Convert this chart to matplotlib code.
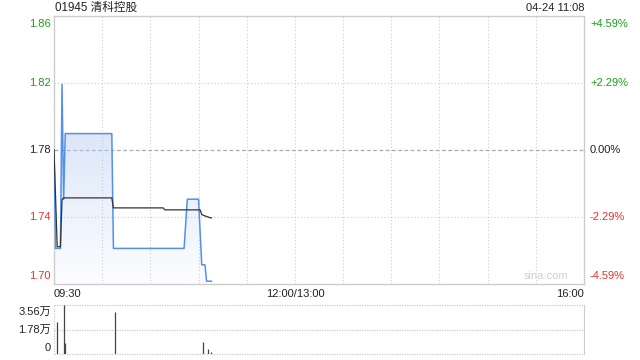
import matplotlib
matplotlib.use("Agg")
import matplotlib.pyplot as plt
import matplotlib.transforms as mtransforms
from matplotlib.patches import Polygon
import numpy as np

plt.rcParams['font.family'] = ['Liberation Sans', 'Noto Sans CJK SC', 'DejaVu Sans']

# ---------------- data ----------------
title = "01945 清科控股"
stamp = "04-24 11:08"
prev_close = 1.78
pct_levels = [0.0459, 0.0229, 0.0, -0.0229, -0.0459]
price_labels = ["1.86", "1.82", "1.78", "1.74", "1.70"]
pct_labels = ["+4.59%", "+2.29%", "0.00%", "-2.29%", "-4.59%"]
time_labels = ["09:30", "12:00/13:00", "16:00"]
time_label_pos = [0, 150, 330]

# minutes since 09:30 (trading minutes, lunch removed)
price_min = [0, 1, 4, 5, 6, 7, 36, 37, 81, 83, 90, 92, 94, 95, 98]
price_val = [1.78, 1.72, 1.72, 1.82, 1.75, 1.79, 1.79, 1.72, 1.72, 1.75, 1.75, 1.71, 1.71, 1.70, 1.70]

avg_min = [0, 2, 4, 5, 6, 36, 37, 68, 69, 91, 92, 94, 97, 98]
avg_val = [1.78, 1.721, 1.721, 1.7497, 1.7508, 1.7508, 1.7447, 1.7447, 1.7435, 1.7435, 1.7406, 1.7398, 1.7388, 1.7386]

vol_min = [2, 6, 7, 38, 93, 96, 98]
vol_val = [23500, 35600, 8200, 30500, 8700, 3600, 1700]
vol_max = 35600
vol_labels = ["3.56万", "1.78万", "0"]

# ---------------- figure ----------------
W, H = 640, 360
fig = plt.figure(figsize=(W / 100, H / 100), dpi=100)

def rect(x0, y0, x1, y1):
    return [x0 / W, 1 - y1 / H, (x1 - x0) / W, (y1 - y0) / H]

ax = fig.add_axes(rect(54, 16, 584, 284))
axv = fig.add_axes(rect(54, 305, 584, 354))

green = "#1a9e1a"
red = "#e8312c"
dark = "#222222"
grid_c = "#cccccc"
blue = "#5290ec"
FS = 8

ylo = prev_close * (1 + pct_levels[-1])
yhi = prev_close * (1 + pct_levels[0])
ax.set_xlim(0, 330)
ax.set_ylim(ylo, yhi)
ax.set_xticks([])
ax.set_yticks([])
for s in ax.spines.values():
    s.set_color(grid_c)
    s.set_linewidth(1)

# grid
for m in range(30, 330, 30):
    ax.axvline(m, color=grid_c, lw=0.8, ls=(0, (1, 2)), zorder=1)
for p in pct_levels[1:-1]:
    if p == 0:
        ax.axhline(prev_close, color="#aaaaaa", lw=0.9, ls=(0, (3, 2)), zorder=1)
    else:
        ax.axhline(prev_close * (1 + p), color=grid_c, lw=0.8, ls=(0, (1, 2)), zorder=1)

# gradient fill under price
pm = np.array(price_min, dtype=float)
pv = np.array(price_val, dtype=float)
poly_xy = np.column_stack([np.r_[pm, pm[-1], pm[0]], np.r_[pv, ylo, ylo]])
poly = Polygon(poly_xy, closed=True, facecolor="none", edgecolor="none")
ax.add_patch(poly)
grad = np.linspace(0, 1, 256).reshape(-1, 1)
rgba = np.zeros((256, 1, 4))
rgba[..., 0] = 0.72
rgba[..., 1] = 0.80
rgba[..., 2] = 0.96
rgba[..., 3] = 0.04 + grad * 0.58
im = ax.imshow(rgba, extent=[0, 330, ylo, pv.max()], origin="lower", aspect="auto", zorder=2)
im.set_clip_path(poly)
ax.set_ylim(ylo, yhi)

ax.plot(price_min, price_val, color=blue, lw=1.1, zorder=4)
ax.plot(avg_min, avg_val, color="#333333", lw=0.9, zorder=5)

# left / right labels
trans_l = mtransforms.blended_transform_factory(fig.transFigure, ax.transData)
for p, lab, pl in zip(pct_levels, price_labels, pct_labels):
    y = prev_close * (1 + p)
    col = green if p > 0 else (red if p < 0 else dark)
    if p == pct_levels[0]:
        va, dy = "top", -3
    elif p == pct_levels[-1]:
        va, dy = "bottom", 3
    else:
        va, dy = "center", 0
    off = mtransforms.offset_copy(trans_l, fig=fig, x=0, y=dy, units="dots")
    ax.text(51 / W, y, lab, transform=off, ha="right", va=va, color=col, fontsize=FS)
    ax.text(590 / W, y, pl, transform=off, ha="left", va=va, color=col, fontsize=FS)

# time labels
for t, lab in zip(time_label_pos, time_labels):
    ha = "left" if t == 0 else ("right" if t == 330 else "center")
    ax.text(t, -0.02, lab, transform=mtransforms.blended_transform_factory(ax.transData, ax.transAxes),
            ha=ha, va="top", fontsize=FS, color=dark)

ax.text(0.97, 0.01, "sina.com", transform=ax.transAxes, ha="right", va="bottom",
        fontsize=FS, color="#d0d0d0")

fig.text(55 / W, 1 - 7.5 / H, title, ha="left", va="center", fontsize=8.4, color=dark)
fig.text(584 / W, 1 - 8 / H, stamp, ha="right", va="center", fontsize=FS, color=dark)

# ---------------- volume ----------------
axv.set_xlim(0, 330)
axv.set_ylim(0, vol_max)
axv.set_xticks([])
axv.set_yticks([])
for k in ["top", "bottom", "left"]:
    axv.spines[k].set_visible(False)
axv.spines["right"].set_color(grid_c)
for v in [0, vol_max / 2, vol_max]:
    axv.axhline(v, color=grid_c, lw=0.9, ls=(0, (1, 1)), zorder=1, clip_on=False)
axv.axvline(0, color=grid_c, lw=0.9, ls=(0, (1, 1)), zorder=1)
axv.vlines(vol_min, 0, vol_val, color="#444444", lw=0.9, zorder=3)

trans_v = mtransforms.blended_transform_factory(fig.transFigure, axv.transData)
for v, lab in zip([vol_max, vol_max / 2, 0], vol_labels):
    if v == vol_max:
        va, dy = "top", -2
    elif v == 0:
        va, dy = "bottom", 1
    else:
        va, dy = "center", 0
    off = mtransforms.offset_copy(trans_v, fig=fig, x=0, y=dy, units="dots")
    axv.text(51 / W, v, lab, transform=off, ha="right", va=va, fontsize=FS, color=dark)

fig.savefig("out.png", dpi=100)
